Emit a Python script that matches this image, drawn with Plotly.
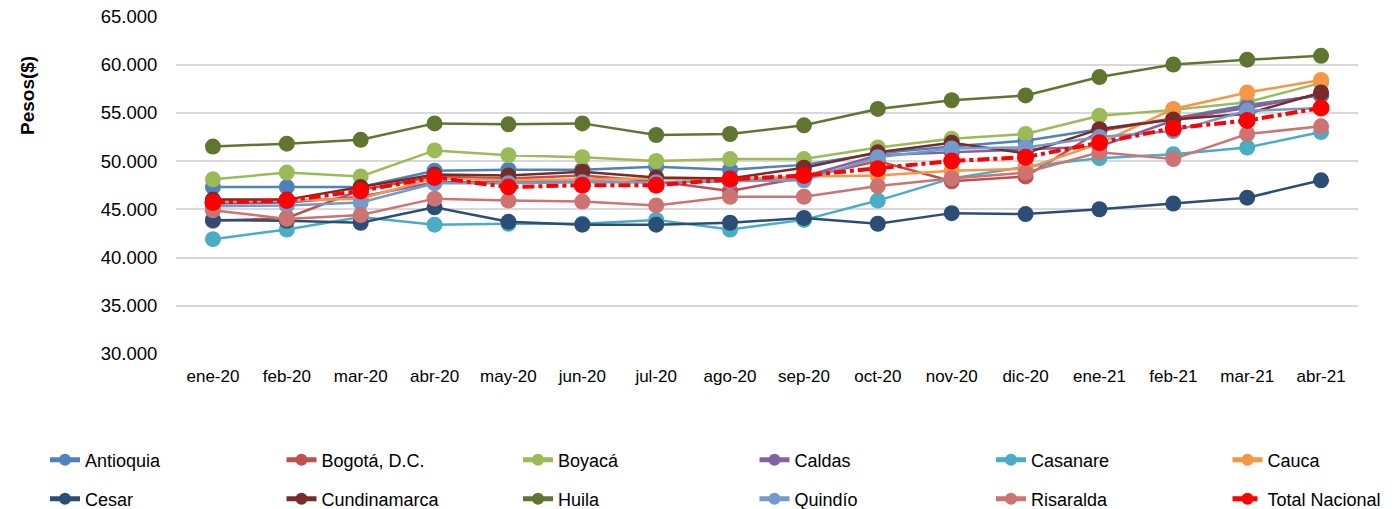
import plotly.graph_objects as go

months = ["ene-20", "feb-20", "mar-20", "abr-20", "may-20", "jun-20", "jul-20", "ago-20",
          "sep-20", "oct-20", "nov-20", "dic-20", "ene-21", "feb-21", "mar-21", "abr-21"]

antioquia = [47300, 47300, 47300, 49000, 49100, 49100, 49400, 49100, 49600, 50800, 51500, 52100, 53300, 54400, 55800, 56800]
bogota = [43800, 44100, 47000, 48400, 48200, 48500, 47900, 46900, 48300, 50000, 47900, 48400, 53100, 54400, 55500, 56900]
boyaca = [48100, 48800, 48400, 51100, 50600, 50400, 50000, 50200, 50200, 51400, 52300, 52800, 54700, 55300, 56100, 58100]
caldas = [45600, 45700, 46300, 47800, 47800, 47900, 47800, 47900, 48400, 50600, 50900, 51200, 51500, 54200, 55600, 56900]
casanare = [41900, 42900, 44200, 43400, 43500, 43500, 43900, 42900, 43900, 45900, 48200, 49400, 50300, 50700, 51400, 53000]
cauca = [45800, 45900, 46100, 48200, 48000, 48100, 48200, 48100, 48400, 48500, 49000, 49200, 51800, 55400, 57100, 58400]
cesar = [43900, 43800, 43600, 45200, 43700, 43400, 43400, 43600, 44100, 43500, 44600, 44500, 45000, 45600, 46200, 48000]
cundinamarca = [46000, 46000, 47300, 48600, 48500, 48900, 48300, 48200, 49300, 50900, 51900, 50800, 53300, 54300, 54900, 57100]
huila = [51500, 51800, 52200, 53900, 53800, 53900, 52700, 52800, 53700, 55400, 56300, 56800, 58700, 60000, 60500, 60900]
quindio = [45300, 45400, 45700, 47700, 47700, 47800, 47800, 47900, 48000, 50400, 51300, 51400, 52500, 53100, 55200, 55500]
risaralda = [44900, 44000, 44400, 46100, 45900, 45800, 45400, 46300, 46300, 47400, 48200, 48800, 50900, 50200, 52800, 53600]
total_nacional = [45700, 45900, 46900, 48300, 47300, 47500, 47500, 48100, 48500, 49200, 50000, 50400, 51900, 53400, 54200, 55500]

y_tickvals = [30000, 35000, 40000, 45000, 50000, 55000, 60000, 65000]
y_ticktext = ["30.000", "35.000", "40.000", "45.000", "50.000", "55.000", "60.000", "65.000"]

series = [
    ("Antioquia", antioquia, "#4F81BD"),
    ("Bogotá, D.C.", bogota, "#C0504D"),
    ("Boyacá", boyaca, "#9BBB59"),
    ("Caldas", caldas, "#8064A2"),
    ("Casanare", casanare, "#4BACC6"),
    ("Cauca", cauca, "#F79646"),
    ("Cesar", cesar, "#2C4D75"),
    ("Cundinamarca", cundinamarca, "#772C2A"),
    ("Huila", huila, "#5F7530"),
    ("Quindío", quindio, "#729ACA"),
    ("Risaralda", risaralda, "#CD7371"),
]

FONT = "Arial, Liberation Sans, sans-serif"
W, H = 1400, 509
ml, mr, mt, mb = 176, 42, 16, 155
pw = W - ml - mr
ph = H - mt - mb

def legend_id(i):
    return "legend" if i == 0 else f"legend{i + 1}"

fig = go.Figure()
for i, (name, vals, color) in enumerate(series):
    fig.add_trace(go.Scatter(
        x=months, y=vals, name=name, mode="lines+markers",
        line=dict(color=color, width=2.5),
        marker=dict(color=color, size=16),
        legend=legend_id(i),
    ))

fig.add_trace(go.Scatter(
    x=months, y=total_nacional, name="Total Nacional", mode="lines+markers",
    line=dict(color="#FF0000", width=4, dash="dashdot"),
    marker=dict(color="#FF0000", size=17),
    legend=legend_id(len(series)),
))

legends = {}
for i in range(len(series) + 1):
    row, col = divmod(i, 6)
    text_x = 85 + col * 236.5
    row_y = 460 if row == 0 else 499
    legends[legend_id(i)] = dict(
        orientation="h", xanchor="left", yanchor="middle",
        xref="container", yref="container",
        x=(text_x - 40) / W, y=1 - row_y / H,
        font=dict(family=FONT, size=18, color="#000000"),
        bgcolor="rgba(0,0,0,0)", itemsizing="constant",
    )

fig.update_layout(
    width=W, height=H,
    margin=dict(l=ml, r=mr, t=mt, b=mb, autoexpand=False),
    paper_bgcolor="white", plot_bgcolor="white",
    font=dict(family=FONT, size=15, color="#000000"),
    showlegend=True,
    xaxis=dict(
        type="category", range=[-0.5, len(months) - 0.5],
        showgrid=False, showline=False, zeroline=False,
        ticks="outside", ticklen=7, tickcolor="rgba(0,0,0,0)",
        tickfont=dict(family=FONT, size=17, color="#000000"),
    ),
    yaxis=dict(
        range=[30000, 65030], tickvals=y_tickvals, ticktext=y_ticktext,
        showgrid=True, gridcolor="#D9D9D9", gridwidth=1.5,
        zeroline=False, showline=False,
        ticks="outside", ticklen=14, tickcolor="rgba(0,0,0,0)",
        ticklabeloverflow="allow",
        tickfont=dict(family=FONT, size=18.5, color="#000000"),
    ),
    annotations=[dict(
        text="<b>Pesos($)</b>", textangle=-90,
        xref="paper", yref="paper",
        x=(27 - ml) / pw, y=(mt + ph - 96) / ph,
        xanchor="center", yanchor="middle", showarrow=False,
        font=dict(family=FONT, size=19, color="#000000"),
    )],
    **legends,
)

fig.write_html("out.html", config={"displayModeBar": False},
               post_script="document.body.style.margin='0';")
